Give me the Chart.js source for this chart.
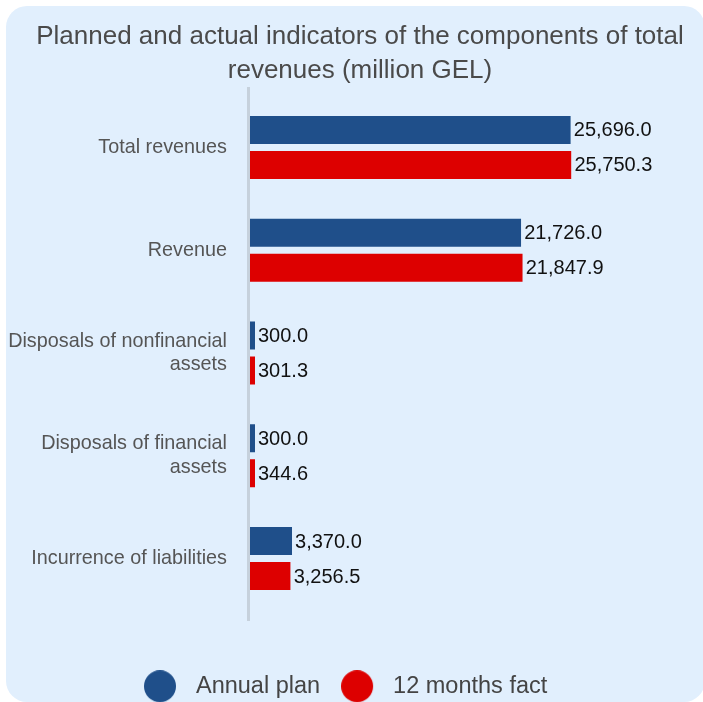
<!DOCTYPE html>
<html>
<head>
<meta charset="utf-8">
<script src="https://cdn.jsdelivr.net/npm/chart.js@4.4.1/dist/chart.umd.min.js"></script>
<style>
    html, body { margin: 0; padding: 0; background: #ffffff; overflow: hidden; }
    #card {
        position: absolute; left: 6px; top: 6px; width: 699px; height: 696px;
        background: #e1effd; border-radius: 21px;
    }
    /* the canvas runs a little past the right edge so the title centres like the original */
    #wrap { position: absolute; left: 0; top: 0; width: 720px; height: 708px; }
</style>
</head>
<body>
<div id="card"></div>
<div id="wrap"><canvas id="chart"></canvas></div>
<script>
// --- data ---
const categories = [
    'Total revenues',
    'Revenue',
    ['Disposals of nonfinancial', 'assets'],
    ['Disposals of financial', 'assets'],
    'Incurrence of liabilities'
];
const annualPlan = [25696.0, 21726.0, 300.0, 300.0, 3370.0];
const monthsFact = [25750.3, 21847.9, 301.3, 344.6, 3256.5];
const seriesNames = ['Annual plan', '12 months fact'];
const seriesColors = ['#1f4f8a', '#dd0000'];

const FONT = '"Liberation Sans", Arial, sans-serif';

// circle marker for the legend; drawn on the left of a wider canvas
// so the legend row sits a little left of the title centre
function circleMarker(color) {
    const c = document.createElement('canvas');
    c.width = 69; c.height = 32;
    const g = c.getContext('2d');
    g.fillStyle = color;
    g.beginPath();
    g.arc(16, 16, 16, 0, Math.PI * 2);
    g.fill();
    return c;
}

// value labels at the end of each bar
const valueLabels = {
    id: 'valueLabels',
    afterDatasetsDraw(chart) {
        const ctx = chart.ctx;
        ctx.save();
        ctx.font = '20px ' + FONT;
        ctx.fillStyle = '#111111';
        ctx.textBaseline = 'middle';
        ctx.textAlign = 'left';
        chart.data.datasets.forEach((ds, i) => {
            chart.getDatasetMeta(i).data.forEach((bar, j) => {
                const txt = ds.data[j].toLocaleString('en-US', { minimumFractionDigits: 1, maximumFractionDigits: 1 });
                ctx.fillText(txt, bar.x + 3, bar.y + 1);
            });
        });
        ctx.restore();
    }
};

// vertical axis line, a bit longer than the plot area
const axisLine = {
    id: 'axisLine',
    beforeDatasetsDraw(chart) {
        const a = chart.chartArea;
        const ctx = chart.ctx;
        ctx.save();
        ctx.strokeStyle = '#c6d1dc';
        ctx.lineWidth = 3;
        ctx.beginPath();
        ctx.moveTo(a.left - 1.5, a.top - 9);
        ctx.lineTo(a.left - 1.5, a.bottom + 11);
        ctx.stroke();
        ctx.restore();
    }
};

new Chart(document.getElementById('chart'), {
    type: 'bar',
    data: {
        labels: categories,
        datasets: [
            {
                label: seriesNames[0], data: annualPlan, backgroundColor: seriesColors[0],
                borderColor: 'rgba(0,0,0,0)', borderWidth: { top: 3.5, bottom: 3.5, left: 0, right: 0 },
                borderSkipped: false, minBarLength: 5
            },
            {
                label: seriesNames[1], data: monthsFact, backgroundColor: seriesColors[1],
                borderColor: 'rgba(0,0,0,0)', borderWidth: { top: 3.5, bottom: 3.5, left: 0, right: 0 },
                borderSkipped: false, minBarLength: 5
            }
        ]
    },
    options: {
        indexAxis: 'y',
        responsive: true,
        maintainAspectRatio: false,
        animation: false,
        categoryPercentage: 0.681,
        barPercentage: 1.0,
        layout: { padding: 0 },
        scales: {
            x: {
                min: 0, max: 37650,
                ticks: { display: false },
                grid: { display: false, drawTicks: false },
                border: { display: false },
                afterFit(scale) { scale.height = 14.75; }
            },
            y: {
                ticks: { color: '#555555', font: { family: FONT, size: 19.8 }, padding: 23 },
                grid: { display: false, drawTicks: false },
                border: { display: false },
                afterFit(scale) { scale.width = 250; }
            }
        },
        plugins: {
            title: {
                display: true,
                text: ['Planned and actual indicators of the components of total', 'revenues (million GEL)'],
                color: '#4a4a4a',
                font: { family: FONT, size: 26, weight: 'normal', lineHeight: 1.3077 },
                padding: { top: 20, bottom: 8 }
            },
            legend: {
                position: 'bottom',
                labels: {
                    usePointStyle: true,
                    pointStyleWidth: 11.5,
                    padding: 49.75,
                    color: '#444444',
                    font: { family: FONT, size: 23.5 },
                    generateLabels(chart) {
                        const items = Chart.defaults.plugins.legend.labels.generateLabels(chart);
                        items.forEach((it, i) => { it.pointStyle = circleMarker(seriesColors[i]); });
                        return items;
                    }
                }
            },
            tooltip: { enabled: false }
        }
    },
    plugins: [axisLine, valueLabels]
});
</script>
</body>
</html>
